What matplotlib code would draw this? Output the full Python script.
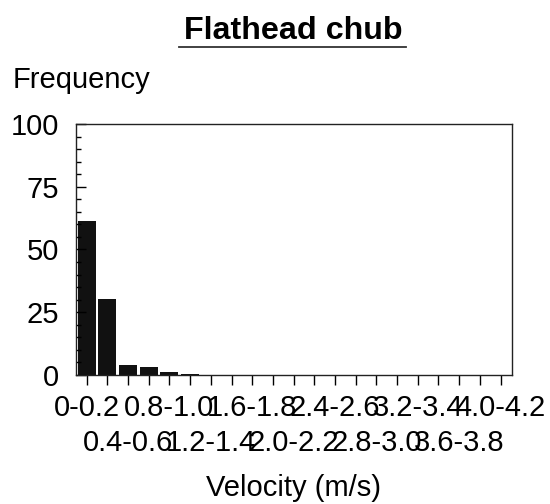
import numpy as np
import matplotlib
matplotlib.use("Agg")
import matplotlib.pyplot as plt
from matplotlib.ticker import MultipleLocator
from matplotlib.lines import Line2D

plt.rcParams['font.family'] = ['Liberation Sans', 'DejaVu Sans']

species = "Flathead chub"
bins = ["0-0.2", "0.2-0.4", "0.4-0.6", "0.6-0.8", "0.8-1.0", "1.0-1.2", "1.2-1.4",
        "1.4-1.6", "1.6-1.8", "1.8-2.0", "2.0-2.2", "2.2-2.4", "2.4-2.6", "2.6-2.8",
        "2.8-3.0", "3.0-3.2", "3.2-3.4", "3.4-3.6", "3.6-3.8", "3.8-4.0", "4.0-4.2"]
freq = [61.2, 30.2, 4.0, 3.1, 1.2, 0.4, 0, 0, 0, 0, 0, 0, 0, 0, 0, 0, 0, 0, 0, 0, 0]

fs = 21

fig = plt.figure(figsize=(5.5, 5.04), dpi=100)
ax = fig.add_axes([0.138, 0.256, 0.792, 0.498])

x = np.arange(len(bins))
ax.bar(x, freq, width=0.87, color='#111111', linewidth=0)

ax.set_xlim(-0.52, len(bins) - 0.47)
ax.set_ylim(0, 100)

# every other bin is labelled, alternating between two rows
labels = []
for i, b in enumerate(bins):
    if i % 4 == 0:
        labels.append(b)
    elif i % 2 == 0:
        labels.append("\n" + b)
    else:
        labels.append("")
ax.set_xticks(x)
ax.set_xticklabels(labels, fontsize=fs, linespacing=1.33)
ax.tick_params(axis='x', direction='out', length=7, width=1, pad=6.5)

ax.yaxis.set_major_locator(MultipleLocator(25))
ax.yaxis.set_minor_locator(MultipleLocator(5))
ax.tick_params(axis='y', which='major', direction='in', length=7, width=1, pad=12, labelsize=fs)
ax.tick_params(axis='y', which='minor', direction='in', length=3.5, width=1)

for s in ax.spines.values():
    s.set_linewidth(1)
    s.set_color('#222222')

ax.set_xlabel("Velocity (m/s)", fontsize=fs, labelpad=12)
fig.text(13 / 550, 1 - 88 / 504, "Frequency", fontsize=fs, va='baseline', ha='left')

title = fig.text(0.534, 1 - 39 / 504, species, fontsize=23.2, fontweight='bold',
                 ha='center', va='baseline')

# underline under the title
fig.canvas.draw()
bb = title.get_window_extent().transformed(fig.transFigure.inverted())
uy = 1 - 46.5 / 504
fig.add_artist(Line2D([bb.x0 - 0.009, bb.x1 + 0.005], [uy, uy], color='#333333',
                      linewidth=1.3, transform=fig.transFigure))

fig.savefig("out.png", dpi=100)
